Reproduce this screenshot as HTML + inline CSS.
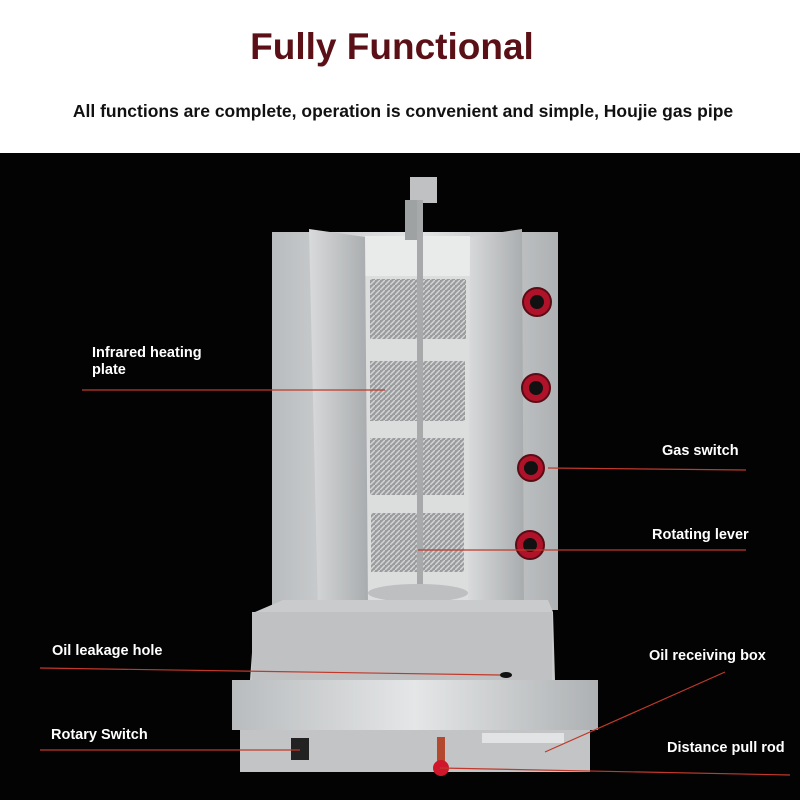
<!DOCTYPE html>
<html><head><meta charset="utf-8"><style>
html,body{margin:0;padding:0;width:800px;height:800px;overflow:hidden;background:#fff}
svg text{font-family:"Liberation Sans",sans-serif}
</style></head><body>
<svg width="800" height="800" viewBox="0 0 800 800" xmlns="http://www.w3.org/2000/svg">
<defs>
<linearGradient id="steel" x1="0" x2="1"><stop offset="0" stop-color="#b9bcbe"/><stop offset="0.5" stop-color="#e4e6e7"/><stop offset="1" stop-color="#aeb1b3"/></linearGradient>
<linearGradient id="wing" x1="0" x2="1"><stop offset="0" stop-color="#d8dadb"/><stop offset="1" stop-color="#a9acae"/></linearGradient>
<pattern id="mesh" width="5" height="5" patternUnits="userSpaceOnUse"><rect width="5" height="5" fill="#9a9c9d"/><path d="M0 5L5 0" stroke="#d4d5d6" stroke-width="1.5"/></pattern>
</defs>
<rect width="800" height="153" fill="#fff"/>
<rect y="153" width="800" height="647" fill="#030303"/>
<text x="392" y="59" text-anchor="middle" font-size="37" font-weight="bold" fill="#5a1016">Fully Functional</text>
<text x="403" y="117" text-anchor="middle" font-size="17.5" font-weight="bold" fill="#111">All functions are complete, operation is convenient and simple, Houjie gas pipe</text>

<rect x="272" y="232" width="286" height="378" fill="url(#steel)"/>
<rect x="365" y="236" width="105" height="40" fill="#e9eaea"/>
<rect x="365" y="276" width="105" height="330" fill="#dcdddd"/>
<rect x="370" y="279" width="96" height="60" fill="url(#mesh)"/>
<rect x="370" y="361" width="95" height="60" fill="url(#mesh)"/>
<rect x="370" y="438" width="94" height="57" fill="url(#mesh)"/>
<rect x="371" y="513" width="93" height="59" fill="url(#mesh)"/>
<polygon points="309,229 365,237 368,605 330,614 318,612" fill="url(#wing)"/>
<polygon points="470,237 522,229 524,612 490,614 468,606" fill="url(#wing)"/>
<rect x="410" y="177" width="27" height="26" fill="#bfc1c2"/>
<rect x="405" y="200" width="14" height="40" fill="#9fa2a3"/>
<rect x="417" y="200" width="6" height="450" fill="#a7a9aa"/>
<ellipse cx="418" cy="593" rx="50" ry="9" fill="#bdbfc0"/>
<rect x="407" y="630" width="16" height="22" fill="#777"/>
<g fill="#b0122a" stroke="#5a0c15" stroke-width="2">
<circle cx="537" cy="302" r="14"/><circle cx="536" cy="388" r="14"/><circle cx="531" cy="468" r="13"/><circle cx="530" cy="545" r="14"/></g>
<g fill="#111"><circle cx="537" cy="302" r="7"/><circle cx="536" cy="388" r="7"/><circle cx="531" cy="468" r="7"/><circle cx="530" cy="545" r="7"/></g>
<polygon points="283,600 548,600 553,612 555,680 250,680 255,612" fill="#c9cbcc"/>
<rect x="252" y="612" width="300" height="68" fill="#bfc1c2"/>
<rect x="232" y="680" width="366" height="50" fill="url(#steel)"/>
<rect x="240" y="730" width="350" height="42" fill="#c2c4c5"/>
<rect x="482" y="733" width="82" height="10" fill="#e2e3e4"/>
<rect x="291" y="738" width="18" height="22" fill="#222"/>
<rect x="437" y="737" width="8" height="28" fill="#b34a2e"/>
<circle cx="441" cy="768" r="8" fill="#d0162b"/>
<ellipse cx="506" cy="675" rx="6" ry="3" fill="#111"/>
<g stroke="#c0392b" stroke-width="1.2" fill="none">
<line x1="82" y1="390" x2="385" y2="390"/>
<line x1="548" y1="468" x2="746" y2="470"/>
<line x1="418" y1="550" x2="746" y2="550"/>
<line x1="40" y1="668" x2="500" y2="675"/>
<line x1="545" y1="752" x2="725" y2="672"/>
<line x1="40" y1="750" x2="300" y2="750"/>
<line x1="440" y1="768" x2="790" y2="775"/>
</g>
<g fill="#fff" font-size="14.5" font-weight="bold">
<text x="92" y="357">Infrared heating</text>
<text x="92" y="374">plate</text>
<text x="662" y="455">Gas switch</text>
<text x="652" y="539">Rotating lever</text>
<text x="52" y="655">Oil leakage hole</text>
<text x="649" y="660">Oil receiving box</text>
<text x="51" y="739">Rotary Switch</text>
<text x="667" y="752">Distance pull rod</text>
</g>
</svg>
</body></html>
